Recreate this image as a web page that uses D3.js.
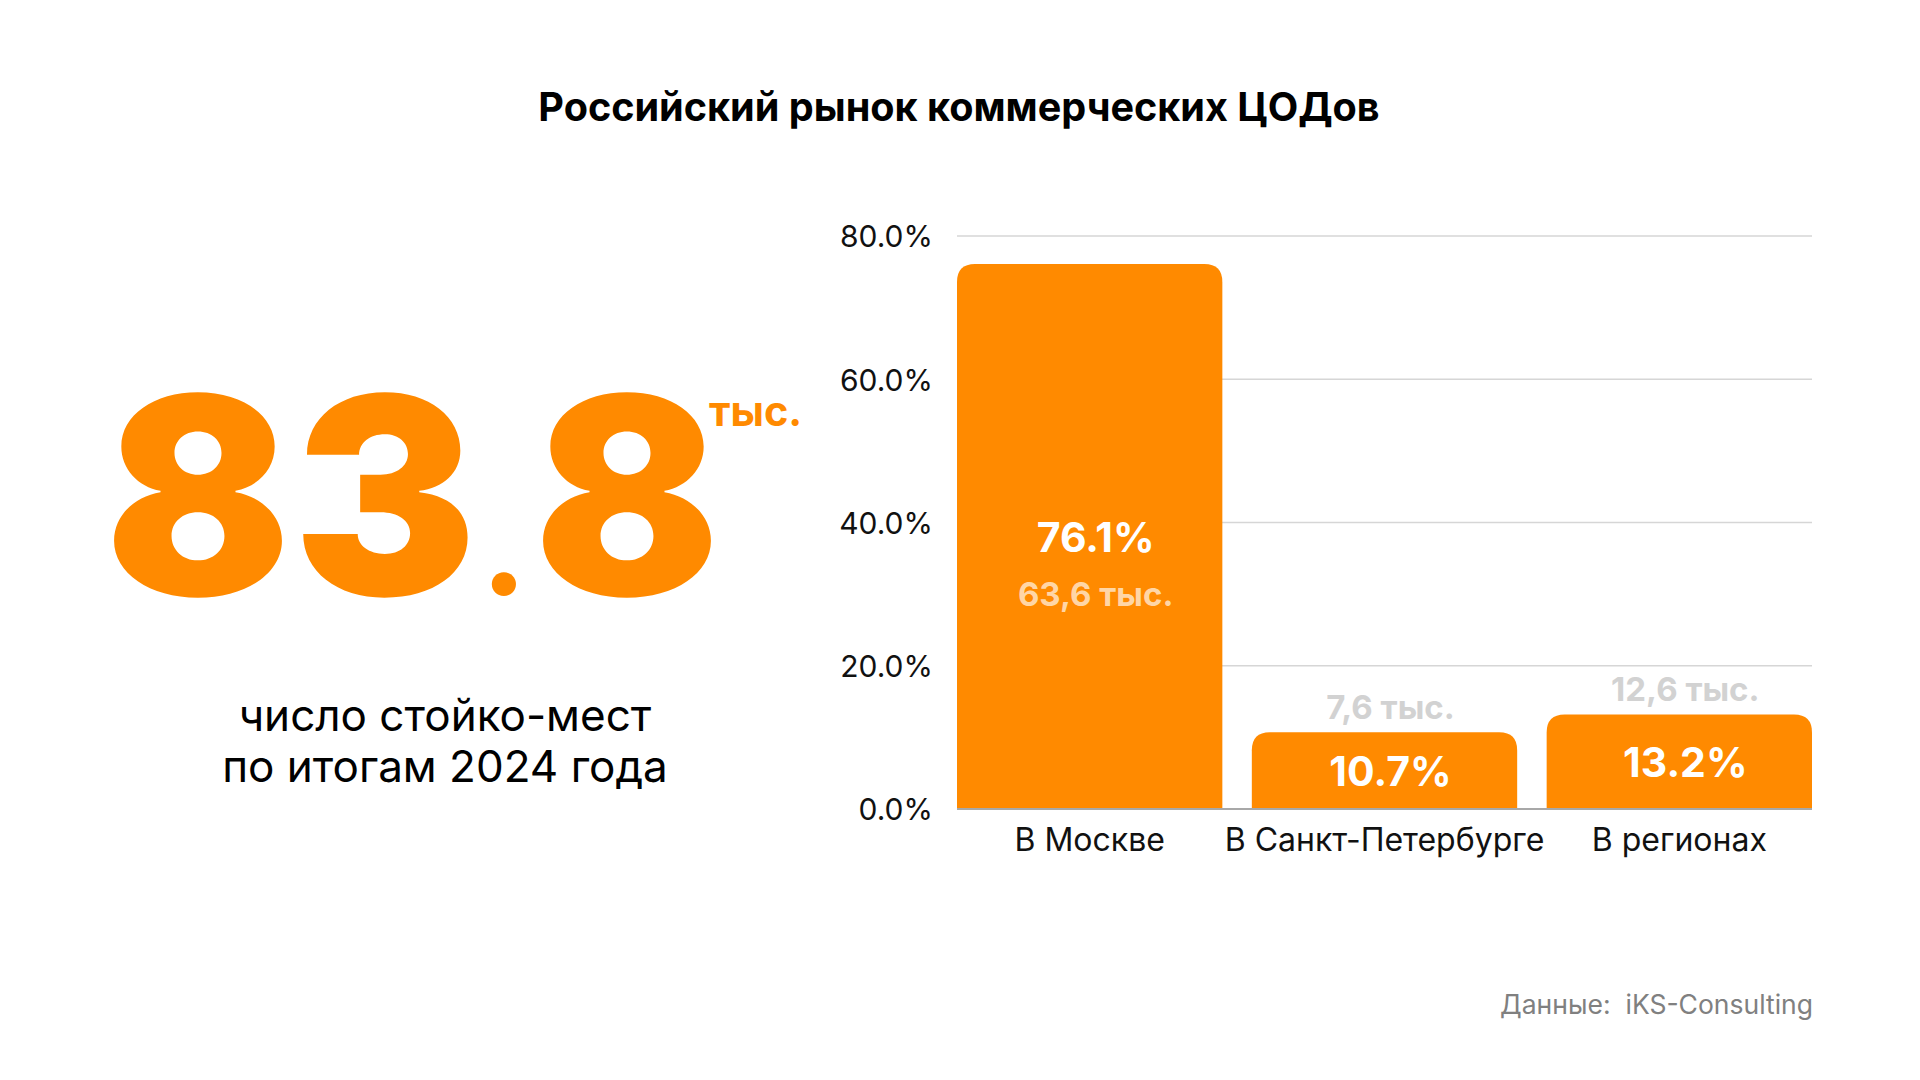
<!DOCTYPE html>
<html>
<head>
    <meta charset="utf-8">
    <title>Российский рынок коммерческих ЦОДов</title>
    <script src="https://d3js.org/d3.v7.min.js"></script>
    <style>
        body { margin: 0; background: #fff; }
        svg { display: block; font-family: Inter, "Noto Sans", sans-serif; }
    </style>
</head>
<body>
    <div id="chart"></div>
    <script>
        // data
        const categories = ["В Москве", "В Санкт-Петербурге", "В регионах"];
        const shares = [76.1, 10.7, 13.2];          // % of racks
        const racks = ["63,6 тыс.", "7,6 тыс.", "12,6 тыс."];
        const yTicks = [0, 20, 40, 60, 80];
        const totalParts = ["8", "3", ".", "8"];
        const totalUnit = "тыс.";
        const captionLines = ["число стойко-мест", "по итогам 2024 года"];
        const title = "Российский рынок коммерческих ЦОДов";
        const source = "Данные:  iKS-Consulting";

        const W = 1920, H = 1080;
        const orange = "#FF8A00";

        const svg = d3.select("#chart").append("svg")
            .attr("width", W).attr("height", H);

        svg.append("text")
            .attr("x", 959).attr("y", 121)
            .attr("text-anchor", "middle")
            .attr("font-size", 39.6).attr("font-weight", 700)
            .attr("fill", "#000")
            .text(title);

        // big number on the left, one text per glyph so the dot can be smaller
        const partX = [198, 385, 504, 627];
        svg.selectAll(".bigpart")
            .data(totalParts)
            .join("text")
            .attr("class", "bigpart")
            .attr("x", (d, i) => partX[i])
            .attr("y", 595)
            .attr("text-anchor", "middle")
            .attr("font-size", d => d === "." ? 120 : 275)
            .attr("font-weight", 900)
            .attr("fill", orange)
            .text(d => d);

        svg.append("text")
            .attr("x", 709).attr("y", 426)
            .attr("font-size", 41.5).attr("font-weight", 700)
            .attr("fill", orange)
            .text(totalUnit);

        svg.selectAll(".caption")
            .data(captionLines)
            .join("text")
            .attr("class", "caption")
            .attr("x", 445)
            .attr("y", (d, i) => 731 + i * 51)
            .attr("text-anchor", "middle")
            .attr("font-size", 44)
            .attr("fill", "#000")
            .text(d => d);

        // bar chart
        const x = d3.scaleBand()
            .domain(categories)
            .range([957, 1812])
            .paddingInner(0.1)
            .paddingOuter(0);

        const y = d3.scaleLinear()
            .domain([0, 80])
            .range([809, 236]);

        svg.append("g")
            .selectAll("line")
            .data(yTicks.filter(d => d > 0))
            .join("line")
            .attr("x1", 957).attr("x2", 1812)
            .attr("y1", d => y(d)).attr("y2", d => y(d))
            .attr("stroke", "#d6d6d6")
            .attr("stroke-width", 1.5);

        const yAxis = svg.append("g")
            .attr("transform", "translate(933,0)")
            .call(d3.axisLeft(y).tickValues(yTicks)
                .tickFormat(d => d3.format(".1f")(d) + "%")
                .tickSize(0).tickPadding(0));
        yAxis.select(".domain").remove();
        yAxis.selectAll("text")
            .attr("font-family", "Inter, 'Noto Sans', sans-serif")
            .attr("font-size", 30)
            .attr("fill", "#111")
            .attr("dy", "0.36em");

        const r = 18;
        function topRounded(x0, y0, w, h) {
            const rr = Math.min(r, h, w / 2);
            return `M${x0},${y0 + h}V${y0 + rr}Q${x0},${y0} ${x0 + rr},${y0}` +
                `H${x0 + w - rr}Q${x0 + w},${y0} ${x0 + w},${y0 + rr}V${y0 + h}Z`;
        }

        const rows = categories.map((c, i) => ({ cat: c, v: shares[i], racks: racks[i] }));

        svg.append("g")
            .selectAll("path")
            .data(rows)
            .join("path")
            .attr("d", d => topRounded(x(d.cat), y(d.v), x.bandwidth(), y(0) - y(d.v)))
            .attr("fill", orange);

        svg.append("line")
            .attr("x1", 957).attr("x2", 1812)
            .attr("y1", y(0)).attr("y2", y(0))
            .attr("stroke", "#a8a8a8")
            .attr("stroke-width", 2);

        const xAxis = svg.append("g")
            .attr("transform", `translate(0,${y(0)})`)
            .call(d3.axisBottom(x).tickSize(0).tickPadding(0));
        xAxis.select(".domain").remove();
        xAxis.selectAll("text")
            .attr("font-family", "Inter, 'Noto Sans', sans-serif")
            .attr("font-size", 32)
            .attr("fill", "#111")
            .attr("dy", 0)
            .attr("y", 42);

        // percent labels centred in the bar
        svg.append("g")
            .selectAll("text")
            .data(rows)
            .join("text")
            .attr("x", d => x(d.cat) + x.bandwidth() / 2 + 6)
            .attr("y", d => (y(d.v) + y(0)) / 2 + 1)
            .attr("dy", "0.36em")
            .attr("text-anchor", "middle")
            .attr("font-size", 41).attr("font-weight", 700)
            .attr("fill", "#fff")
            .text(d => d3.format(".1f")(d.v) + "%");

        // rack counts: inside under the percent if the bar is tall, else above it
        const tall = d => y(0) - y(d.v) > 200;
        svg.append("g")
            .selectAll("text")
            .data(rows)
            .join("text")
            .attr("x", d => x(d.cat) + x.bandwidth() / 2 + 6)
            .attr("y", d => tall(d) ? (y(d.v) + y(0)) / 2 + 70 : y(d.v) - 13)
            .attr("text-anchor", "middle")
            .attr("font-size", 33).attr("font-weight", 700)
            .attr("fill", d => tall(d) ? "#FFD6A6" : "#d2d2d2")
            .text(d => d.racks);

        svg.append("text")
            .attr("x", 1813).attr("y", 1014)
            .attr("text-anchor", "end")
            .attr("font-size", 26.5)
            .attr("fill", "#808080")
            .style("white-space", "pre")
            .text(source);
    </script>
</body>
</html>
